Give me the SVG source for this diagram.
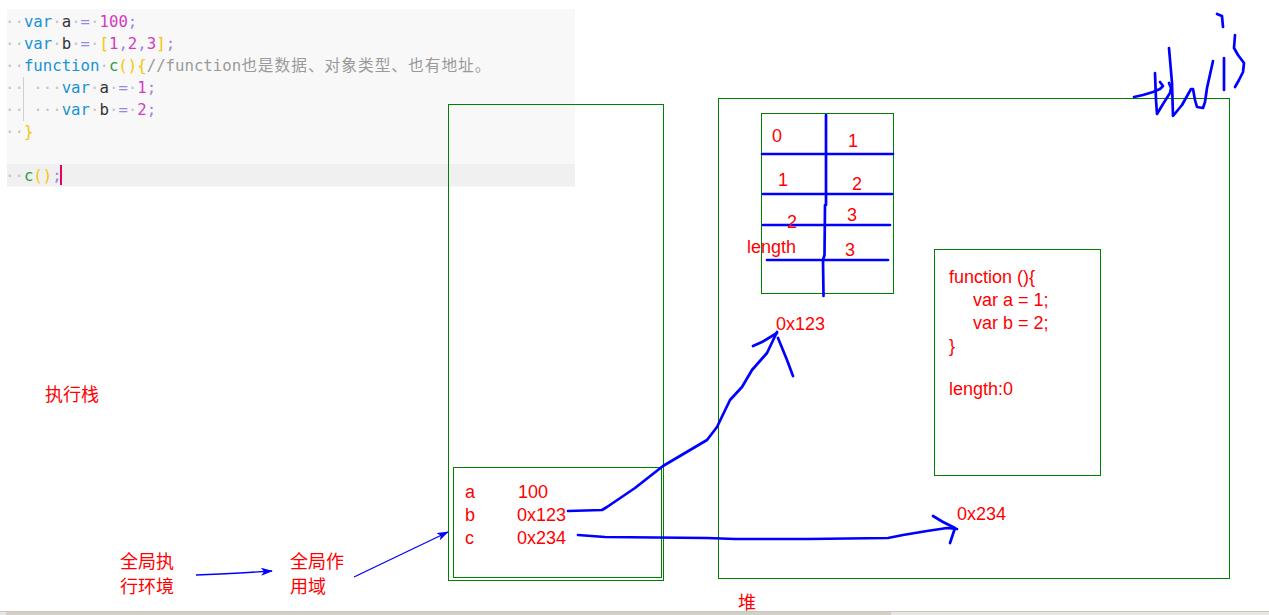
<svg xmlns="http://www.w3.org/2000/svg" width="1269" height="615" viewBox="0 0 1269 615">
<style>
.code{font-family:"DejaVu Sans Mono","Noto Sans CJK SC",monospace;font-size:15.7px}
.d{fill:#c4c4c4}.k{fill:#1793d6}.i{fill:#333}.o{fill:#9d86dd}.n{fill:#d23cbc}.b{fill:#f7c600}.f{fill:#2e9c3e}.cm{fill:#9a9a9a}
.lbl{font-family:"Liberation Sans",Arial,sans-serif;font-size:18px;fill:#ff0000}
.cjk{font-family:"Noto Sans CJK SC","Noto Sans CJK JP",sans-serif;font-size:18px;fill:#ff0000}
.box{fill:none;stroke:#008000;stroke-width:1}
.pen{fill:none;stroke:#0000ff;stroke-width:2.7;stroke-linecap:round;stroke-linejoin:round}
.thin{fill:none;stroke:#0000ff;stroke-width:1.3}
</style>
<defs>
<marker id="ah" markerWidth="12" markerHeight="8" refX="11" refY="4" orient="auto" markerUnits="userSpaceOnUse">
<path d="M0,0 L12,4 L0,8 L3,4 Z" fill="#0000ff"/>
</marker>
</defs>
<rect width="1269" height="615" fill="#ffffff"/>
<g id="code">
<rect x="7" y="9" width="568" height="178" fill="#f8f8f8"/>
<rect x="7" y="164" width="568" height="22" fill="#f0f0f0"/>
<line x1="23.5" y1="77" x2="23.5" y2="121" stroke="#cfcfcf" stroke-width="1"/>
<text class="code" xml:space="preserve" x="5" y="27"><tspan class="d">··</tspan><tspan class="k">var</tspan><tspan class="d">·</tspan><tspan class="i">a</tspan><tspan class="d">·</tspan><tspan class="o">=</tspan><tspan class="d">·</tspan><tspan class="n">100</tspan><tspan class="o">;</tspan></text>
<text class="code" xml:space="preserve" x="5" y="49"><tspan class="d">··</tspan><tspan class="k">var</tspan><tspan class="d">·</tspan><tspan class="i">b</tspan><tspan class="d">·</tspan><tspan class="o">=</tspan><tspan class="d">·</tspan><tspan class="b">[</tspan><tspan class="n">1</tspan><tspan class="o">,</tspan><tspan class="n">2</tspan><tspan class="o">,</tspan><tspan class="n">3</tspan><tspan class="b">]</tspan><tspan class="o">;</tspan></text>
<text class="code" xml:space="preserve" x="5" y="71"><tspan class="d">··</tspan><tspan class="k">function</tspan><tspan class="d">·</tspan><tspan class="f">c</tspan><tspan class="b">(){</tspan><tspan class="cm">//function</tspan><tspan class="cm" letter-spacing="1">也是数据、对象类型、也有地址。</tspan></text>
<text class="code" xml:space="preserve" x="5" y="93"><tspan class="d">·· ···</tspan><tspan class="k">var</tspan><tspan class="d">·</tspan><tspan class="i">a</tspan><tspan class="d">·</tspan><tspan class="o">=</tspan><tspan class="d">·</tspan><tspan class="n">1</tspan><tspan class="o">;</tspan></text>
<text class="code" xml:space="preserve" x="5" y="115"><tspan class="d">·· ···</tspan><tspan class="k">var</tspan><tspan class="d">·</tspan><tspan class="i">b</tspan><tspan class="d">·</tspan><tspan class="o">=</tspan><tspan class="d">·</tspan><tspan class="n">2</tspan><tspan class="o">;</tspan></text>
<text class="code" xml:space="preserve" x="5" y="137"><tspan class="d">··</tspan><tspan class="b">}</tspan></text>
<text class="code" xml:space="preserve" x="5" y="181"><tspan class="d">··</tspan><tspan class="f">c</tspan><tspan class="b">()</tspan><tspan class="o">;</tspan></text>
<rect x="60" y="165" width="2" height="20" fill="#e8005a"/>
</g>
<g id="stack">
<rect class="box" x="448.5" y="104.5" width="215" height="476"/>
</g>
<g id="global-scope">
<rect class="box" x="453.5" y="467.5" width="208" height="110"/>
<text class="lbl" x="465" y="498">a</text><text class="lbl" x="518" y="498">100</text>
<text class="lbl" x="465" y="521">b</text><text class="lbl" x="517" y="521">0x123</text>
<text class="lbl" x="465" y="544">c</text><text class="lbl" x="517" y="544">0x234</text>
</g>
<g id="heap">
<rect class="box" x="718.5" y="98.5" width="511" height="480"/>
</g>
<g id="array">
<rect class="box" x="761.5" y="113.5" width="132" height="180"/>
<path class="pen" d="M826,115 L826,205 M825,205 L824.5,255 L823,260 L823.5,296"/>
<path class="pen" d="M762,154 L893,154 M763,194 L892,194 M763,225 L890,225 M767,260 L888,260"/>
<text class="lbl" x="772" y="142">0</text>
<text class="lbl" x="848" y="147">1</text>
<text class="lbl" x="778" y="186">1</text>
<text class="lbl" x="852" y="190">2</text>
<text class="lbl" x="787" y="228">2</text>
<text class="lbl" x="847" y="221">3</text>
<text class="lbl" x="747" y="253">length</text>
<text class="lbl" x="845" y="256">3</text>
<text class="lbl" x="776" y="330">0x123</text>
</g>
<g id="function">
<rect class="box" x="934.5" y="249.5" width="166" height="226"/>
<text class="lbl" x="949" y="283">function (){</text>
<text class="lbl" x="973" y="306">var a = 1;</text>
<text class="lbl" x="973" y="329">var b = 2;</text>
<text class="lbl" x="949" y="352">}</text>
<text class="lbl" x="949" y="395">length:0</text>
<text class="lbl" x="957" y="520">0x234</text>
</g>
<g id="labels">
<text class="cjk" x="45" y="401">执行栈</text>
<text class="cjk" x="120" y="568" font-size="17">全局执</text>
<text class="cjk" x="120" y="593" font-size="17">行环境</text>
<text class="cjk" x="290" y="568" font-size="17">全局作</text>
<text class="cjk" x="290" y="593" font-size="17">用域</text>
<text class="cjk" x="738" y="609" font-size="17">堆</text>
</g>
<g id="connectors">
<path class="pen" d="M568,511 L602,510 L607,507 L635,488 L663,466 L707,440 L717,427 L730,400 L742,387 L752,370 L767,353 L777,332"/>
<path class="pen" d="M753,346 L762,342 L777,333 M778,338 L787,360 L793,376"/>
<path class="pen" d="M578,535 L605,537 L707,538 L735,539 L808,539 L888,538 L903,535 L927,531 L947,528 L957,529"/>
<path class="pen" d="M933,516 L943,522 L955,528 L950,543"/>
<path class="thin" d="M196,575 L220,574 L240,573 L272,571" marker-end="url(#ah)"/>
<path class="thin" d="M354,577 L448,532" marker-end="url(#ah)"/>
</g>
<g id="scribble">
<path class="pen" d="M1134,97 L1143,95 L1153,92 L1160,89 L1163,86 L1160,82"/>
<path class="pen" d="M1155,73 L1156,100 L1157,114 L1163,104 L1170,93 L1171,88 L1169,83"/>
<path class="pen" d="M1169,48 L1172,83 L1173,116 L1182,105 L1191,89 L1193,89 L1195,100 L1197,107 L1203,108 L1205,102 L1207,88 L1213,61"/>
<path class="pen" d="M1224,58 L1224,90"/>
<path class="pen" d="M1217,14 L1222,16 L1223,27"/>
<path class="pen" d="M1235,35 L1234,48 L1238,55 L1244,63 L1243,72 L1239,80 L1235,87"/>
</g>
<g id="scrollbar">
<rect x="0" y="611" width="1269" height="4" fill="#e9e7e3"/>
<line x1="0" y1="611.5" x2="1269" y2="611.5" stroke="#c9c5bd" stroke-width="1"/>
<rect x="6" y="612" width="885" height="3" fill="#d4d0c8"/>
</g>
</svg>
